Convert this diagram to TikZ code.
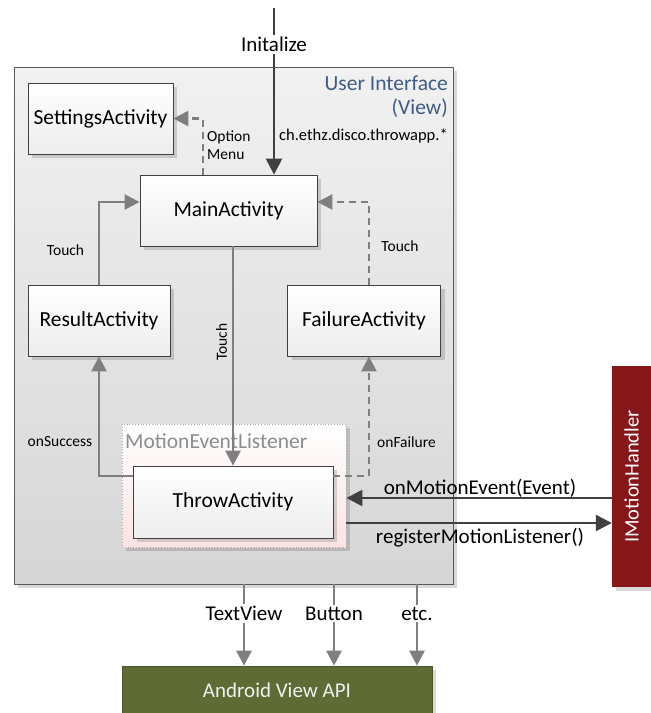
\documentclass[tikz,border=0pt]{standalone}
\usepackage{fontspec}
\setmainfont{Carlito}
\usetikzlibrary{arrows.meta,shadows}

\definecolor{arrowgray}{HTML}{7F7F7F}
\definecolor{arrowdark}{HTML}{404040}
\definecolor{boxborder}{HTML}{404040}
\definecolor{uiborder}{HTML}{5A5A5A}
\definecolor{uitop}{HTML}{F1F1F1}
\definecolor{uibottom}{HTML}{D6D6D6}
\definecolor{titleblue}{HTML}{3E5C85}
\definecolor{handlerred}{HTML}{861618}
\definecolor{apigreen}{HTML}{5F6B35}
\definecolor{listenerpink}{HTML}{FBE3E3}
\definecolor{labelgray}{HTML}{8C8C8C}

\tikzset{
  boxshadow/.style={drop shadow={shadow xshift=4pt,shadow yshift=-4pt,fill=black,opacity=0.15}},
  uibox/.style={draw=uiborder, line width=0.8pt, top color=uitop, bottom color=uibottom, boxshadow, inner sep=0pt},
  activity/.style={draw=boxborder, line width=0.8pt, top color=white, bottom color=black!7,
    minimum height=71pt, inner sep=0pt, font=\fontsize{21.5}{25}\selectfont, boxshadow},
  listenerbox/.style={draw=black!35, dotted, line width=0.8pt, top color=white, bottom color=listenerpink,
    inner sep=0pt, boxshadow},
  handlerbox/.style={fill=handlerred, text=white, inner sep=0pt, rotate=90,
    font=\fontsize{20.5}{24}\selectfont, boxshadow},
  apibox/.style={fill=apigreen, draw=apigreen!80!black, line width=0.6pt, text=white!94!black, inner sep=0pt,
    font=\fontsize{21}{25}\selectfont, boxshadow},
  grayline/.style={draw=arrowgray, line width=2.5pt},
  grayarrow/.style={grayline, -{Triangle[length=15pt,width=15pt]}},
  graydash/.style={grayarrow, dash pattern=on 7pt off 5pt},
  darkarrow/.style={draw=arrowdark, line width=2.5pt, -{Triangle[length=16pt,width=16pt]}},
  lbl/.style={font=\fontsize{15.5}{18}\selectfont, text=black, inner sep=1pt},
  biglbl/.style={font=\fontsize{21}{25}\selectfont, text=black, inner sep=2pt},
}

\begin{document}
\begin{tikzpicture}[x=1pt,y=-1pt]
\useasboundingbox (0,0) rectangle (651,713);

% User interface frame
\node[uibox, minimum width=439pt, minimum height=517pt] (ui) at (233.5,325.5) {};
\node[anchor=north east, align=right, text=titleblue, font=\fontsize{21.5}{24}\selectfont, inner sep=0pt]
  (uititle) at (448,76) {User Interface\\(View)};
\node[anchor=east, inner sep=0pt, font=\fontsize{16.5}{19}\selectfont] (pkg) at (448,136) {ch.ethz.disco.throwapp.*};

% Listener wrapper around the throw activity
\node[listenerbox, minimum width=224pt, minimum height=123pt] (listener) at (234,485.5) {};
\node[anchor=west, text=labelgray, font=\fontsize{21.5}{25}\selectfont, inner sep=0pt]
  (listenerlabel) at (125,441) {MotionEventListener};

% Activities
\node[activity, minimum width=145pt] (settings) at (100.5,118.5) {SettingsActivity};
\node[activity, minimum width=177pt] (main) at (228.5,210.5) {MainActivity};
\node[activity, minimum width=142pt] (result) at (99,320.5) {ResultActivity};
\node[activity, minimum width=153pt] (failure) at (364,320.5) {FailureActivity};
\node[activity, minimum width=200pt, minimum height=72pt] (throw) at (233,502) {ThrowActivity};

% External components
\node[handlerbox, minimum width=221pt, minimum height=39pt] (handler) at (631.5,476.5) {IMotionHandler};
\node[apibox, minimum width=310pt, minimum height=48pt] (api) at (277,690) {Android View API};

% Entry point
\coordinate (entry) at (274,8);
\draw[darkarrow] (entry) -- (entry |- main.north)
  node[biglbl, pos=0.22, fill=white] {Initalize};

% Navigation between activities
\draw[graydash] ([xshift=-25.5pt]main.north) |- (settings.east);
\node[lbl, anchor=west, align=left] (optlbl) at (206,145) {Option\\Menu};

\draw[grayarrow] (result.north) |- ([yshift=8.5pt]main.west);
\node[lbl] (touchleft) at (65.5,250) {Touch};

\draw[graydash] ([xshift=5pt]failure.north) |- ([yshift=8.5pt]main.east);
\node[lbl] (touchright) at (400,246) {Touch};

\draw[grayarrow] (throw.north |- main.south) -- (throw.north);
\node[lbl, rotate=90] (touchmid) at (221.5,342) {Touch};

\draw[grayarrow] ([yshift=26pt]throw.west) -| (result.south);
\node[lbl] (success) at (60,442) {onSuccess};

\draw[graydash] ([yshift=26pt]throw.east) -| ([xshift=5pt]failure.south);
\node[lbl] (failurelbl) at (406.5,442) {onFailure};

% Motion handler interface
\draw[darkarrow] ([yshift=-21.5pt]handler.north) -- ([yshift=-21.5pt]handler.north -| listener.east);
\node[biglbl] (motionevt) at (480,488) {onMotionEvent(Event)};
\draw[darkarrow] ([yshift=-46.5pt]handler.north -| listener.east) -- ([yshift=-46.5pt]handler.north);
\node[biglbl] (register) at (480,538) {registerMotionListener()};

% Widgets used from the view API
\draw[grayarrow] ([xshift=10.5pt]ui.south) -- ([xshift=10.5pt]ui.south |- api.north)
  node[biglbl, pos=0.36, fill=white] {TextView};
\draw[grayarrow] ([xshift=100.5pt]ui.south) -- ([xshift=100.5pt]ui.south |- api.north)
  node[biglbl, pos=0.36, fill=white] {Button};
\draw[grayarrow] ([xshift=183.5pt]ui.south) -- ([xshift=183.5pt]ui.south |- api.north)
  node[biglbl, pos=0.36, fill=white] {etc.};
\end{tikzpicture}
\end{document}
